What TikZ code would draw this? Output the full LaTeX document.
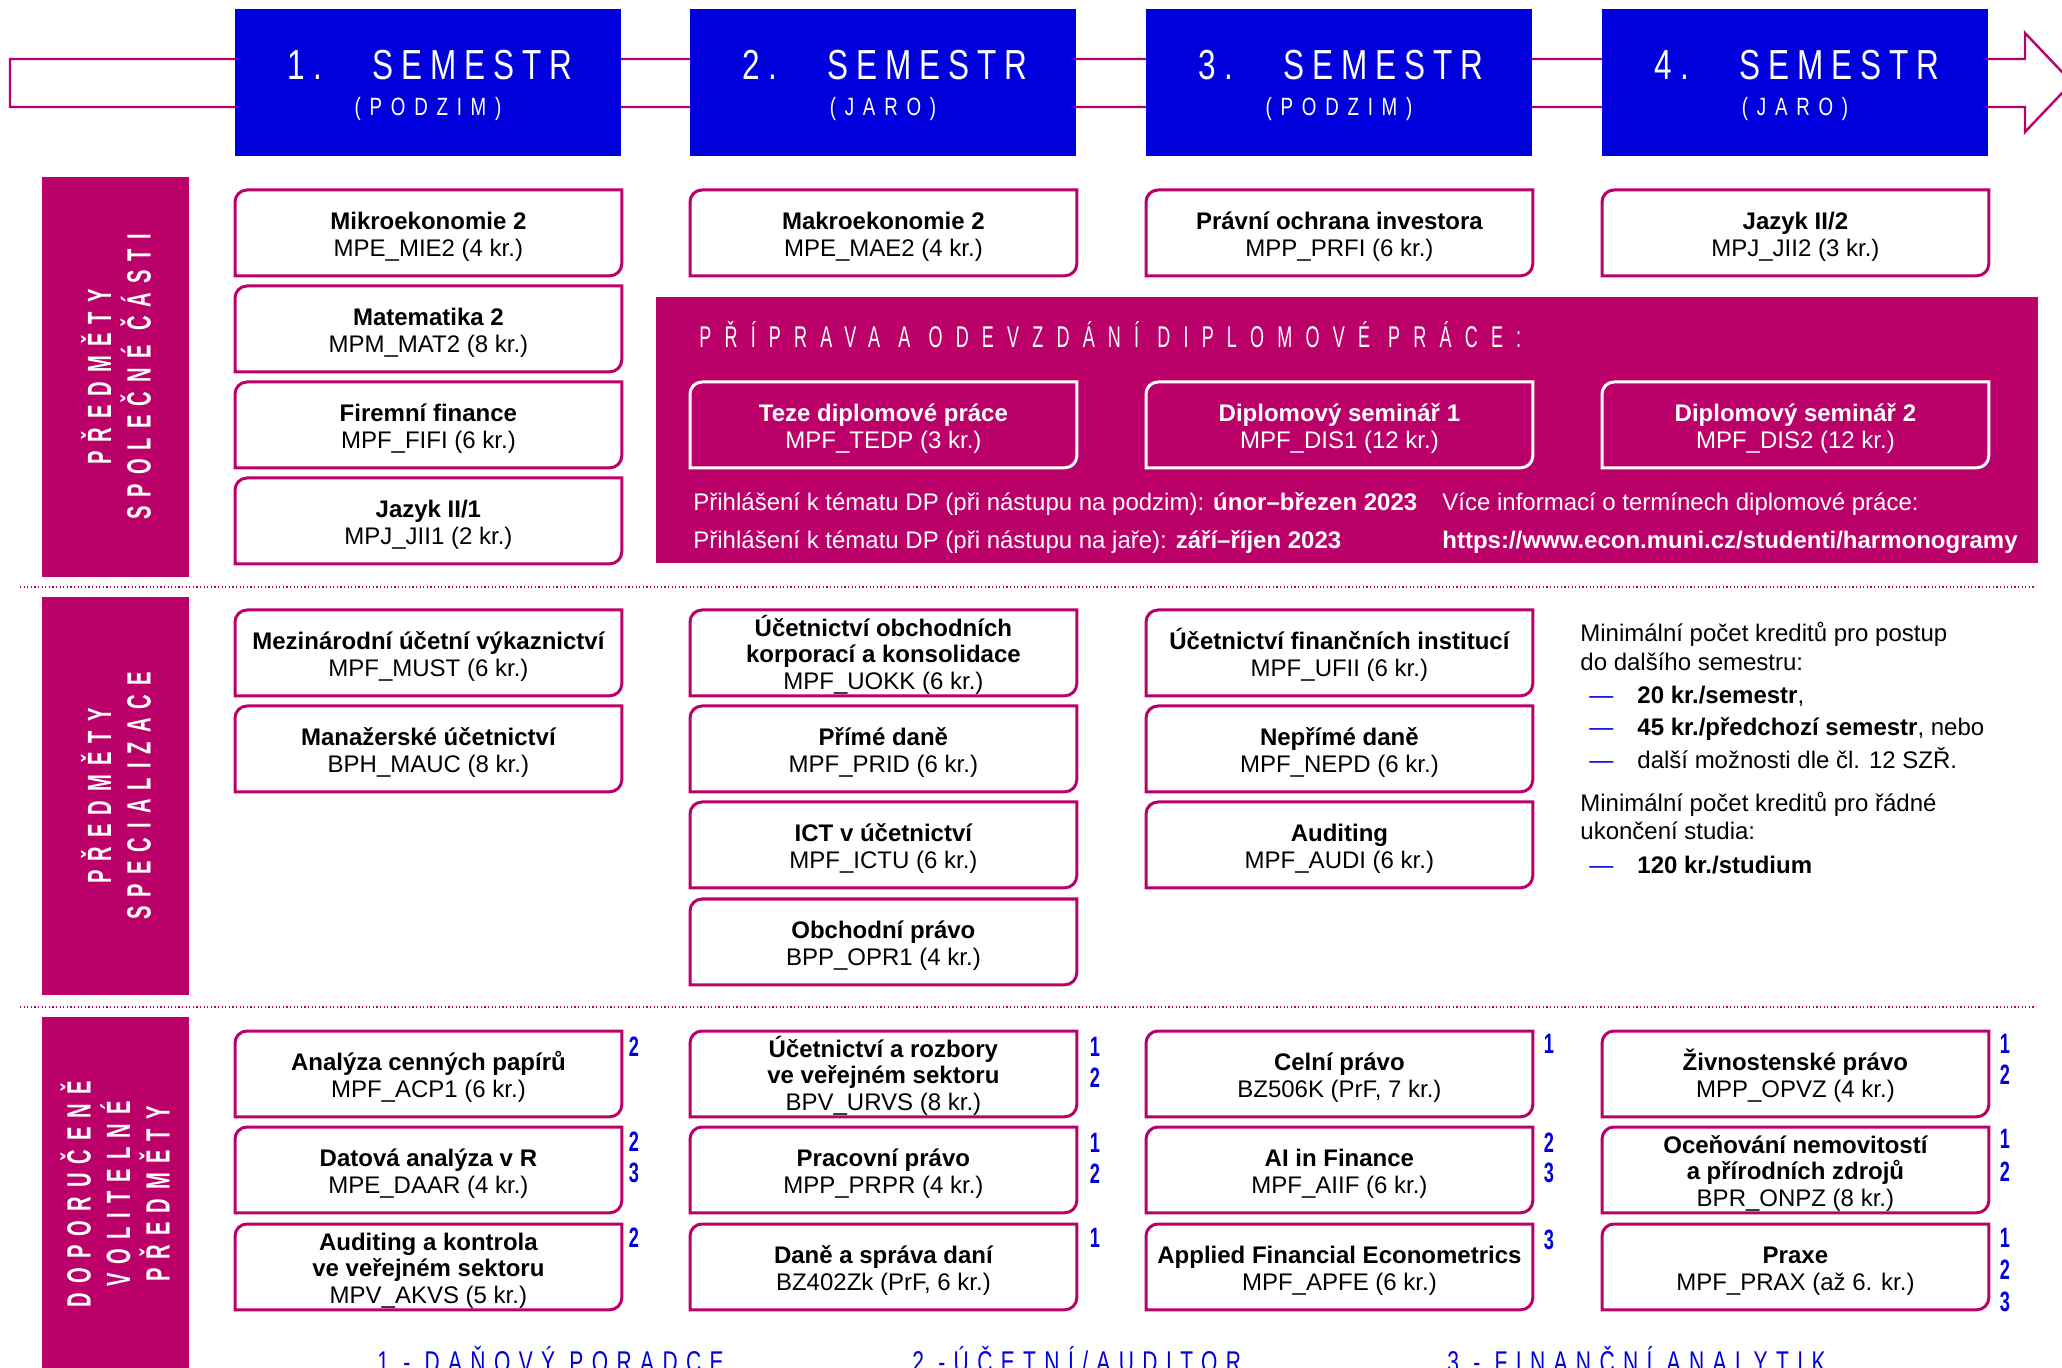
\documentclass[tikz,border=0pt]{standalone}
\usepackage{fontspec}
\setmainfont{Liberation Sans}
\newfontfamily\semfont[FakeStretch=0.75,LetterSpace=19]{Liberation Sans}
\newfontfamily\subfont[FakeStretch=0.75,LetterSpace=35]{Liberation Sans}
\newfontfamily\sidefont[FakeStretch=0.6,LetterSpace=27]{Liberation Sans}
\newfontfamily\numfont[FakeStretch=0.65]{Liberation Sans}
\newfontfamily\titfont[FakeStretch=0.7,LetterSpace=28]{Liberation Sans}
\newfontfamily\panfont[FakeStretch=0.6,LetterSpace=44]{Liberation Sans}
\definecolor{mag}{RGB}{187,0,106}
\definecolor{sblue}{RGB}{0,0,220}
\tikzset{
  cbox/.style={anchor=north west, minimum width=193pt, minimum height=42.5pt, inner sep=0pt, align=center, font=\fontsize{12pt}{13.25pt}\selectfont},
  semb/.style={anchor=north west, fill=sblue, minimum width=193pt, minimum height=73.5pt, inner sep=0pt},
  semtitle/.style={text=white, inner sep=0pt, font=\semfont\fontsize{21pt}{21pt}\selectfont},
  semsub/.style={text=white, inner sep=0pt, font=\subfont\fontsize{12.5pt}{12.5pt}\selectfont},
  sidetext/.style={rotate=90, text=white, align=center, inner sep=0pt, font=\sidefont\bfseries\fontsize{16.8pt}{19.75pt}\selectfont},
  numst/.style={text=sblue, inner sep=0pt, font=\numfont\bfseries\fontsize{14pt}{14pt}\selectfont},
  infotext/.style={anchor=base west, inner sep=0pt, font=\fontsize{12pt}{13pt}\selectfont},
  legend/.style={anchor=base west, inner sep=0pt, text=sblue, font=\titfont\fontsize{15pt}{15pt}\selectfont},
  dotline/.style={mag, line width=1.2pt, dash pattern=on 0.6pt off 1.2pt}
}
\newcommand\boxline[2]{%
  \draw[#2, line width=1.5pt] ([yshift=-6pt]#1.north west) .. controls ([yshift=-2.7pt]#1.north west) and ([xshift=2.7pt]#1.north west) .. ([xshift=6pt]#1.north west) -- (#1.north east) -- ([yshift=6pt]#1.south east) .. controls ([yshift=2.7pt]#1.south east) and ([xshift=-2.7pt]#1.south east) .. ([xshift=-6pt]#1.south east) -- (#1.south west) -- cycle;}
\newcommand\course[5]{%
  \node[cbox] (#1) at (#2,#3) {\rule{0pt}{12.5pt}\bfseries #4\\\mdseries #5};
  \boxline{#1}{mag}}
\newcommand\coursew[5]{%
  \node[cbox, text=white] (#1) at (#2,#3) {\rule{0pt}{12.5pt}\bfseries #4\\\mdseries #5};
  \boxline{#1}{white}}
\begin{document}
\begin{tikzpicture}[x=0.5pt,y=-0.5pt]
\useasboundingbox (0,0) rectangle (2062,1368);
\fill[white] (0,0) rectangle (2062,1368);
% timeline arrow
\draw[mag, line width=1.2pt, fill=white] (10,59) -- (2025,59) -- (2025,33) -- (2072,82.5) -- (2025,132) -- (2025,107) -- (10,107) -- cycle;
% semesters
\foreach \i/\x/\n/\s in {1/235/1/PODZIM,2/690/2/JARO,3/1146/3/PODZIM,4/1602/4/JARO}{
  \node[semb] (sem\i) at (\x,9) {};
  \node[semtitle] (semt\i) at (\x+195,65) {\n.\hspace{25pt}SEMESTR};
  \node[semsub] (sems\i) at (\x+193,109) {(\s)};
}
% side bars
\fill[mag] (42,177) rectangle (189,577);
\fill[mag] (42,597) rectangle (189,995);
\fill[mag] (42,1017) rectangle (189,1380);
\node[sidetext] (side1) at (116,377) {PŘEDMĚTY\\SPOLEČNÉ ČÁSTI};
\node[sidetext] (side2) at (116,796) {PŘEDMĚTY\\SPECIALIZACE};
\node[sidetext] (side3) at (115,1194) {DOPORUČENĚ\\VOLITELNÉ\\PŘEDMĚTY};
% separators
\draw[dotline] (20,587) -- (2036,587);
\draw[dotline] (20,1007) -- (2036,1007);
% section 1
\course{mie}{235}{190}{Mikroekonomie 2}{MPE\_MIE2 (4 kr.)}
\course{mat}{235}{286}{Matematika 2}{MPM\_MAT2 (8 kr.)}
\course{fifi}{235}{382}{Firemní finance}{MPF\_FIFI (6 kr.)}
\course{jii1}{235}{478}{Jazyk II/1}{MPJ\_JII1 (2 kr.)}
\course{mae}{690}{190}{Makroekonomie 2}{MPE\_MAE2 (4 kr.)}
\course{prfi}{1146}{190}{Právní ochrana investora}{MPP\_PRFI (6 kr.)}
\course{jii2}{1602}{190}{Jazyk II/2}{MPJ\_JII2 (3 kr.)}
% thesis panel
\fill[mag] (656,297) rectangle (2038,563);
\node[anchor=base west, inner sep=0pt, text=white, font=\panfont\fontsize{15pt}{15pt}\selectfont] (ptitle) at (699,348) {PŘÍPRAVA A ODEVZDÁNÍ DIPLOMOVÉ PRÁCE:};
\coursew{tedp}{690}{382}{Teze diplomové práce}{MPF\_TEDP (3 kr.)}
\coursew{dis1}{1146}{382}{Diplomový seminář 1}{MPF\_DIS1 (12 kr.)}
\coursew{dis2}{1602}{382}{Diplomový seminář 2}{MPF\_DIS2 (12 kr.)}
\node[infotext, text=white] (p1) at (693,510.6) {Přihlášení k tématu DP (při nástupu na podzim): \textbf{únor–březen 2023}};
\node[infotext, text=white] (p2) at (693,548.6) {Přihlášení k tématu DP (při nástupu na jaře): \textbf{září–říjen 2023}};
\node[infotext, text=white] (p3) at (1442,510.6) {Více informací o termínech diplomové práce:};
\node[infotext, text=white] (p4) at (1442,548.6) {\textbf{https://www.econ.muni.cz/studenti/harmonogramy}};
% section 2
\course{must}{235}{610}{Mezinárodní účetní výkaznictví}{MPF\_MUST (6 kr.)}
\course{mauc}{235}{706}{Manažerské účetnictví}{BPH\_MAUC (8 kr.)}
\course{uokk}{690}{610}{Účetnictví obchodních\\\bfseries korporací a konsolidace}{MPF\_UOKK (6 kr.)}
\course{prid}{690}{706}{Přímé daně}{MPF\_PRID (6 kr.)}
\course{ictu}{690}{802}{ICT v účetnictví}{MPF\_ICTU (6 kr.)}
\course{opr}{690}{899}{Obchodní právo}{BPP\_OPR1 (4 kr.)}
\course{ufii}{1146}{610}{Účetnictví finančních institucí}{MPF\_UFII (6 kr.)}
\course{nepd}{1146}{706}{Nepřímé daně}{MPF\_NEPD (6 kr.)}
\course{audi}{1146}{802}{Auditing}{MPF\_AUDI (6 kr.)}
% credit rules
\node[infotext] (r1) at (1580,641.6) {Minimální počet kreditů pro postup};
\node[infotext] (r2) at (1580,670.6) {do dalšího semestru:};
\node[infotext, text=sblue] (d1) at (1589,703.6) {—};
\node[infotext] (r3) at (1637,703.6) {\textbf{20 kr./semestr},};
\node[infotext, text=sblue] (d2) at (1589,735.6) {—};
\node[infotext] (r4) at (1637,735.6) {\textbf{45 kr./předchozí semestr}, nebo};
\node[infotext, text=sblue] (d3) at (1589,768.6) {—};
\node[infotext] (r5) at (1637,768.6) {další možnosti dle čl. 12 SZŘ.};
\node[infotext] (r6) at (1580,811.6) {Minimální počet kreditů pro řádné};
\node[infotext] (r7) at (1580,839.6) {ukončení studia:};
\node[infotext, text=sblue] (d4) at (1589,873.6) {—};
\node[infotext] (r8) at (1637,873.6) {\textbf{120 kr./studium}};
% section 3
\course{acp}{235}{1031}{Analýza cenných papírů}{MPF\_ACP1 (6 kr.)}
\course{daar}{235}{1127}{Datová analýza v R}{MPE\_DAAR (4 kr.)}
\course{akvs}{235}{1224}{Auditing a kontrola\\\bfseries ve veřejném sektoru}{MPV\_AKVS (5 kr.)}
\course{urvs}{690}{1031}{Účetnictví a rozbory\\\bfseries ve veřejném sektoru}{BPV\_URVS (8 kr.)}
\course{prpr}{690}{1127}{Pracovní právo}{MPP\_PRPR (4 kr.)}
\course{dane}{690}{1224}{Daně a správa daní}{BZ402Zk (PrF, 6 kr.)}
\course{celni}{1146}{1031}{Celní právo}{BZ506K (PrF, 7 kr.)}
\course{aiif}{1146}{1127}{AI in Finance}{MPF\_AIIF (6 kr.)}
\course{apfe}{1146}{1224}{Applied Financial Econometrics}{MPF\_APFE (6 kr.)}
\course{opvz}{1602}{1031}{Živnostenské právo}{MPP\_OPVZ (4 kr.)}
\course{onpz}{1602}{1127}{Oceňování nemovitostí\\\bfseries a přírodních zdrojů}{BPR\_ONPZ (8 kr.)}
\course{prax}{1602}{1224}{Praxe}{MPF\_PRAX (až 6. kr.)}
% track numbers
\node[numst] (n1) at (634,1047) {2};
\node[numst] (n2) at (634,1142) {2};
\node[numst] (n3) at (634,1173) {3};
\node[numst] (n4) at (634,1238) {2};
\node[numst] (n5) at (1095,1047) {1};
\node[numst] (n6) at (1095,1078) {2};
\node[numst] (n7) at (1095,1143) {1};
\node[numst] (n8) at (1095,1174) {2};
\node[numst] (n9) at (1095,1238) {1};
\node[numst] (n10) at (1549,1044) {1};
\node[numst] (n11) at (1549,1143) {2};
\node[numst] (n12) at (1549,1173) {3};
\node[numst] (n13) at (1549,1240) {3};
\node[numst] (n14) at (2005,1044) {1};
\node[numst] (n15) at (2005,1075) {2};
\node[numst] (n16) at (2005,1139) {1};
\node[numst] (n17) at (2005,1172) {2};
\node[numst] (n18) at (2005,1238) {1};
\node[numst] (n19) at (2005,1270) {2};
\node[numst] (n20) at (2005,1302) {3};
% legend
\node[legend] (lg1) at (377,1372) {1 - DAŇOVÝ PORADCE};
\node[legend] (lg2) at (912,1372) {2 -ÚČETNÍ/AUDITOR};
\node[legend] (lg3) at (1447,1372) {3 - FINANČNÍ ANALYTIK};
\end{tikzpicture}
\end{document}
